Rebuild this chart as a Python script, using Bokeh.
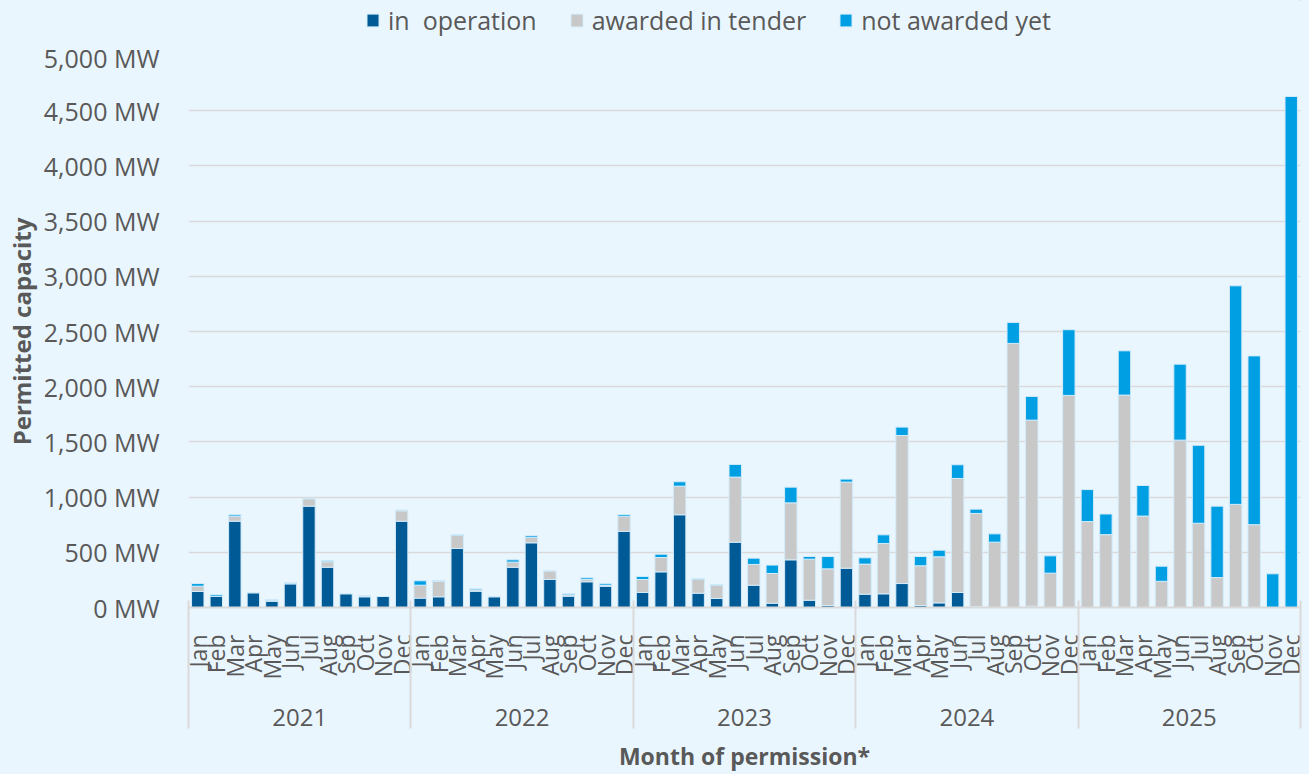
import math
from bokeh.plotting import figure
from bokeh.layouts import column
from bokeh.models import ColumnDataSource, Range1d, LinearAxis, FixedTicker, Legend, LegendItem
from bokeh.embed import file_html
from bokeh.resources import INLINE

years = ["2021", "2022", "2023", "2024", "2025"]
months = ["Jan", "Feb", "Mar", "Apr", "May", "Jun", "Jul", "Aug", "Sep", "Oct", "Nov", "Dec"]

in_operation = [
    145, 103, 782, 133, 57, 214, 918, 365, 124, 97, 100, 782,
    85, 97, 535, 148, 97, 365, 586, 254, 103, 233, 193, 689,
    136, 323, 840, 130, 82, 592, 202, 39, 432, 66, 18, 356,
    121, 124, 217, 18, 42, 136, 9, 0, 0, 12, 0, 0,
    0, 0, 0, 0, 0, 0, 0, 0, 0, 0, 0, 0,
]
awarded_in_tender = [
    48, 0, 45, 3, 8, 6, 67, 49, 3, 9, 0, 94,
    117, 139, 120, 12, 3, 46, 51, 78, 12, 21, 6, 138,
    118, 130, 259, 127, 120, 589, 188, 269, 516, 372, 332, 780,
    272, 456, 1341, 360, 417, 1033, 843, 592, 2392, 1685, 311, 1921,
    778, 660, 1924, 828, 237, 1516, 763, 271, 934, 750, 0, 0,
]
not_awarded_yet = [
    24, 15, 13, 0, 7, 6, 5, 9, 0, 0, 0, 6,
    40, 9, 6, 12, 0, 21, 15, 0, 12, 15, 15, 16,
    27, 30, 40, 6, 6, 115, 57, 76, 142, 24, 112, 27,
    57, 78, 76, 84, 60, 124, 39, 75, 190, 215, 157, 595,
    290, 187, 401, 277, 137, 688, 706, 647, 1980, 1529, 305, 4629,
]

y_ticks = [0, 500, 1000, 1500, 2000, 2500, 3000, 3500, 4000, 4500, 5000]
y_tick_labels = ["0 MW", "500 MW", "1,000 MW", "1,500 MW", "2,000 MW", "2,500 MW",
                 "3,000 MW", "3,500 MW", "4,000 MW", "4,500 MW", "5,000 MW"]

series_names = ["in  operation", "awarded in tender", "not awarded yet"]
series_colors = ["#005A96", "#C8C8C8", "#009FE3"]

BG = "#EAF6FE"
TXT = "#595959"
GRID = "#D9D9D9"
FONT = "Open Sans"
BAR_EDGE = "#D3EBF9"

n = len(years) * len(months)
xs = list(range(n))
source = ColumnDataSource(dict(x=xs, op=in_operation, aw=awarded_in_tender, na=not_awarded_yet))
stack_cols = ["op", "aw", "na"]

# ---------------- main chart ----------------
p = figure(width=1309, height=734, output_backend="svg", toolbar_location=None,
           x_range=Range1d(-0.5, n - 0.5), y_range=Range1d(0, 5000),
           x_axis_location=None,
           min_border_left=188, min_border_right=9, min_border_top=15, min_border_bottom=167)
p.background_fill_color = BG
p.border_fill_color = BG
p.outline_line_color = None

renderers = p.vbar_stack(stack_cols, x="x", width=0.67, color=series_colors,
                         line_color=BAR_EDGE, line_width=1, source=source)

# y axis
yax = p.yaxis[0]
yax.ticker = FixedTicker(ticks=y_ticks)
yax.major_label_overrides = {t: l for t, l in zip(y_ticks, y_tick_labels)}
yax.axis_line_color = None
yax.major_tick_line_color = None
yax.minor_tick_line_color = None
yax.major_tick_out = 0
yax.minor_tick_out = 0
yax.major_label_standoff = 29
yax.major_label_text_font = FONT
yax.major_label_text_font_size = "25px"
yax.major_label_text_color = TXT
yax.axis_label = "Permitted capacity"
yax.axis_label_text_font = FONT
yax.axis_label_text_font_style = "bold"
yax.axis_label_text_font_size = "24px"
yax.axis_label_text_color = TXT
yax.axis_label_standoff = 3

p.ygrid.ticker = FixedTicker(ticks=y_ticks)
p.ygrid.grid_line_color = GRID
p.ygrid.grid_line_width = 1.5
for g in p.xgrid:
    g.visible = False

# month axis (inner level)
month_axis = LinearAxis(
    ticker=FixedTicker(ticks=xs, minor_ticks=[]),
    major_label_overrides={i: months[i % len(months)] for i in xs},
    major_label_orientation=math.pi / 2,
)
month_axis.axis_line_color = GRID
month_axis.axis_line_width = 2
month_axis.major_tick_out = 0
month_axis.major_tick_in = 0
month_axis.minor_tick_out = 0
month_axis.minor_tick_in = 0
month_axis.major_tick_line_color = None
month_axis.minor_tick_line_color = None
month_axis.major_label_standoff = 27
month_axis.major_label_text_font = FONT
month_axis.major_label_text_font_size = "23px"
month_axis.major_label_text_color = TXT
p.add_layout(month_axis, "below")

# year axis (outer level)
year_centers = [i * len(months) + (len(months) - 1) / 2 for i in range(len(years))]
year_axis = LinearAxis(
    ticker=FixedTicker(ticks=year_centers, minor_ticks=[]),
    major_label_overrides={c: y for c, y in zip(year_centers, years)},
)
year_axis.axis_line_color = None
year_axis.major_tick_line_color = None
year_axis.minor_tick_line_color = None
year_axis.major_tick_out = 0
year_axis.major_tick_in = 0
year_axis.minor_tick_out = 0
year_axis.minor_tick_in = 0
year_axis.major_label_standoff = 26
year_axis.major_label_text_font = FONT
year_axis.major_label_text_font_size = "24px"
year_axis.major_label_text_color = TXT
p.add_layout(year_axis, "below")

# year separators (ticks pointing inwards through both label rows) + axis title
sep_ticks = [i * len(months) - 0.5 for i in range(len(years) + 1)]
sep_axis = LinearAxis(ticker=FixedTicker(ticks=sep_ticks, minor_ticks=[]))
sep_axis.axis_line_color = None
sep_axis.major_tick_out = 0
sep_axis.major_tick_in = 128
sep_axis.minor_tick_out = 0
sep_axis.minor_tick_in = 0
sep_axis.major_tick_line_color = GRID
sep_axis.major_tick_line_width = 2
sep_axis.minor_tick_line_color = None
sep_axis.major_label_text_color = None
sep_axis.major_label_text_font_size = "1px"
sep_axis.major_label_standoff = 0
sep_axis.axis_label = "Month of permission*"
sep_axis.axis_label_text_font = FONT
sep_axis.axis_label_text_font_style = "bold"
sep_axis.axis_label_text_font_size = "23px"
sep_axis.axis_label_text_color = TXT
sep_axis.axis_label_standoff = 11
p.add_layout(sep_axis, "below")

# ---------------- legend strip ----------------
# same series, drawn on a strip whose ranges lie outside the data so only the legend shows
lg = figure(width=1309, height=40, output_backend="svg", toolbar_location=None,
            x_range=Range1d(-20, -19), y_range=Range1d(-2, -1),
            x_axis_location=None, y_axis_location=None, min_border=0)
lg.background_fill_color = None
lg.border_fill_color = BG
lg.outline_line_color = None
for g in lg.grid:
    g.visible = False
lg_renderers = [lg.vbar(x="x", top=col, width=0.67, color=c, line_color=BAR_EDGE, source=source)
                for col, c in zip(stack_cols, series_colors)]
legend = Legend(items=[LegendItem(label=name, renderers=[r])
                       for name, r in zip(series_names, lg_renderers)],
                orientation="horizontal", location=(177, 3))
legend.background_fill_alpha = 0
legend.border_line_color = None
legend.padding = 0
legend.margin = 0
legend.spacing = 32
legend.label_standoff = 8
legend.glyph_width = 15
legend.glyph_height = 16
legend.label_text_font = FONT
legend.label_text_font_size = "25px"
legend.label_text_color = TXT
lg.add_layout(legend, "center")

layout = column(lg, p, spacing=0)

html = file_html(layout, INLINE, title="Permitted capacity")
html = html.replace("</head>", "<style>body{background-color:#EAF6FE;}</style></head>", 1)
open("out.html", "w").write(html)
